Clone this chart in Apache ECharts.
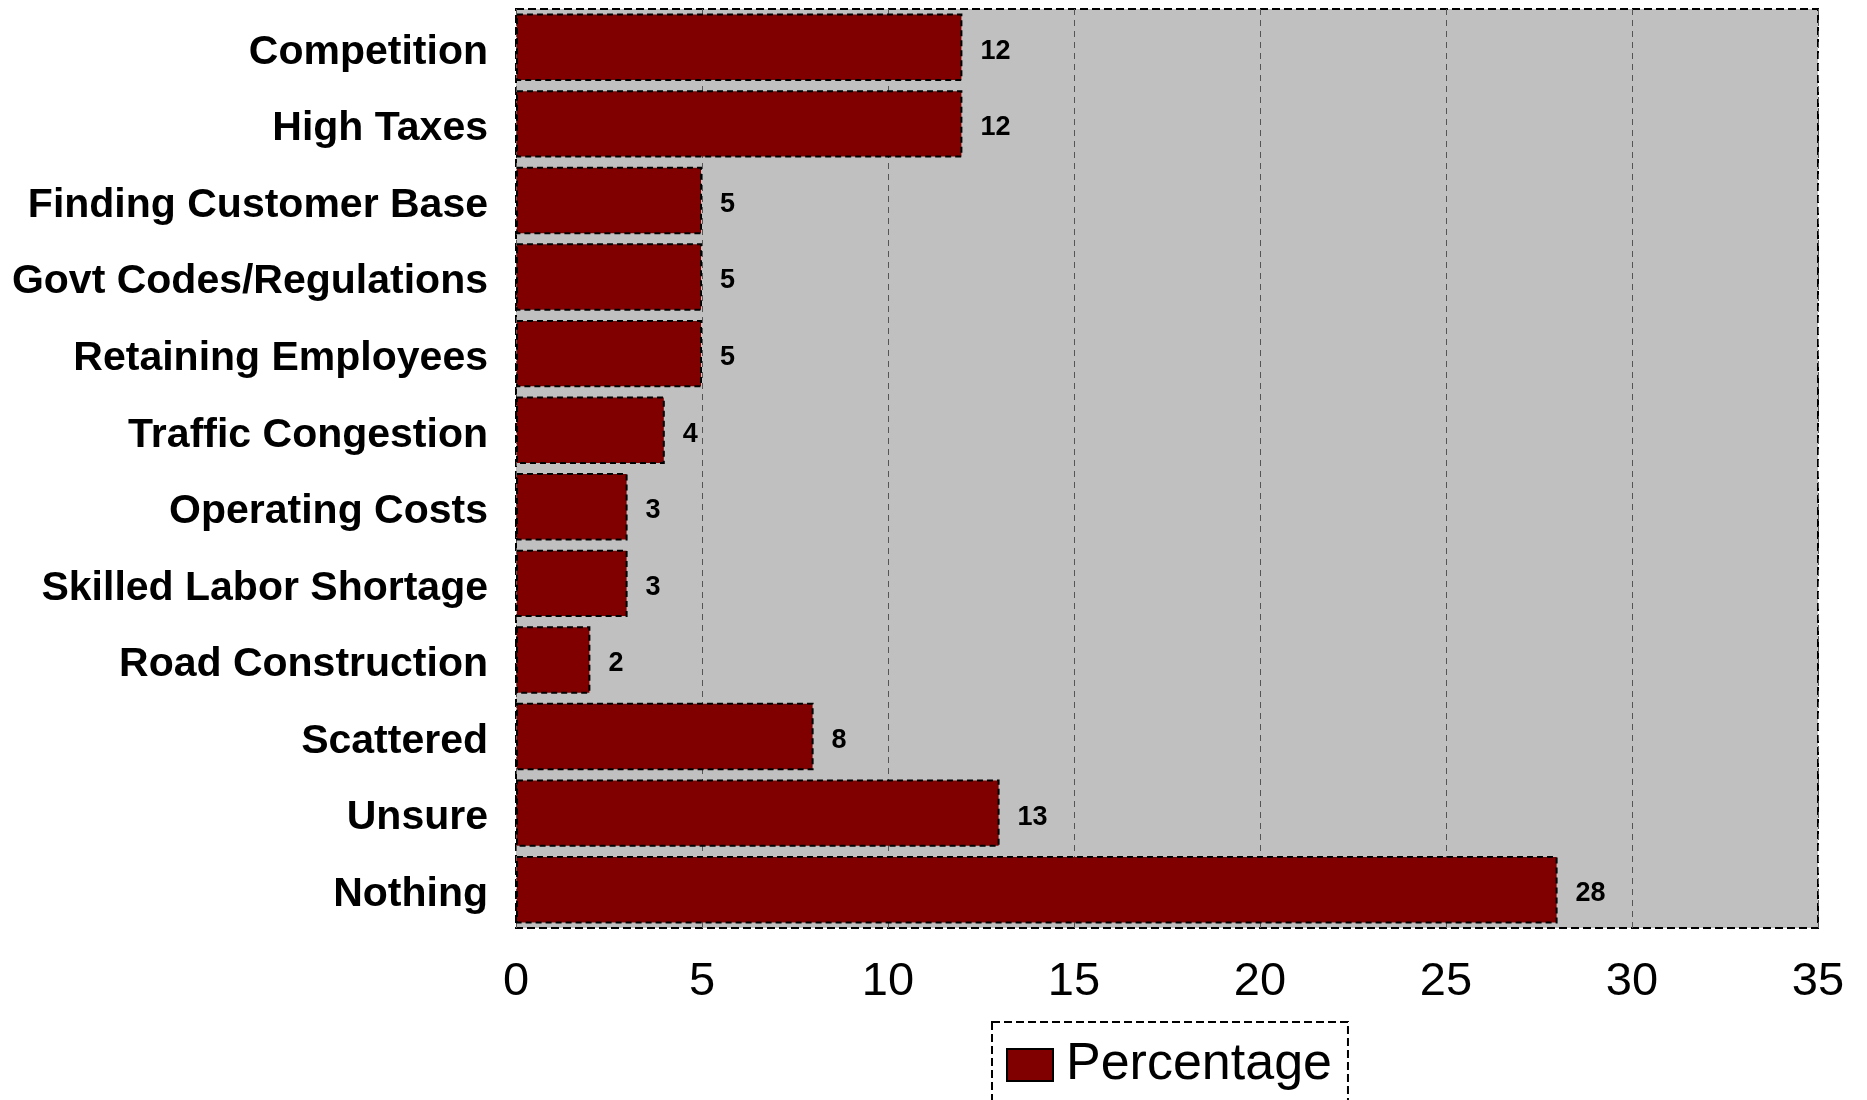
<!DOCTYPE html>
<html>
<head>
<meta charset="utf-8">
<script src="https://cdn.jsdelivr.net/npm/echarts@6/dist/echarts.min.js"></script>
<style>
  html, body { margin: 0; padding: 0; background: #fff; }
  #chart { width: 1867px; height: 1100px; }
</style>
</head>
<body>
<div id="chart"></div>
<script>
const categories = [
  'Competition', 'High Taxes', 'Finding Customer Base', 'Govt Codes/Regulations',
  'Retaining Employees', 'Traffic Congestion', 'Operating Costs', 'Skilled Labor Shortage',
  'Road Construction', 'Scattered', 'Unsure', 'Nothing'
]
const percentage = [12, 12, 5, 5, 5, 4, 3, 3, 2, 8, 13, 28]
const xTicks = [0, 5, 10, 15, 20, 25, 30, 35]

const chart = echarts.init(document.getElementById('chart'))

chart.setOption({
  animation: false,
  textStyle: { fontFamily: 'Liberation Sans, Arial, sans-serif' },
  grid: {
    left: 516, right: 49, top: 9, bottom: 172,
    show: true, backgroundColor: '#c0c0c0',
    borderColor: '#000', borderWidth: 2, borderType: 'dashed'
  },
  xAxis: {
    type: 'value', min: xTicks[0], max: xTicks[xTicks.length - 1], interval: 5,
    axisLine: { show: false }, axisTick: { show: false },
    splitLine: { show: true, lineStyle: { color: '#555', width: 1, type: [6, 5] } },
    axisLabel: { color: '#000', fontSize: 47, margin: 31 }
  },
  yAxis: {
    type: 'category', data: categories, inverse: true,
    axisLine: { show: false }, axisTick: { show: false },
    axisLabel: {
      color: '#000', fontSize: 41, fontWeight: 'bold', margin: 28,
      verticalAlign: 'top', lineHeight: 10
    }
  },
  legend: {
    data: ['Percentage'], icon: 'rect', left: 992, top: 1022,
    padding: [12, 16, 12, 14], itemWidth: 46, itemHeight: 32,
    borderColor: '#000', borderWidth: 2, borderType: 'dashed',
    textStyle: { color: '#000', fontSize: 52, lineHeight: 56, padding: [6, 0, 0, 8] }
  },
  series: [{
    name: 'Percentage', type: 'bar', data: percentage,
    barCategoryGap: '12%',
    itemStyle: { color: '#800000', borderColor: '#000', borderWidth: 2, borderType: [6, 4] },
    label: {
      show: true, position: 'right', distance: 18, color: '#000',
      fontSize: 27, fontWeight: 'bold', verticalAlign: 'top', lineHeight: 8
    }
  }]
})
</script>
</body>
</html>
